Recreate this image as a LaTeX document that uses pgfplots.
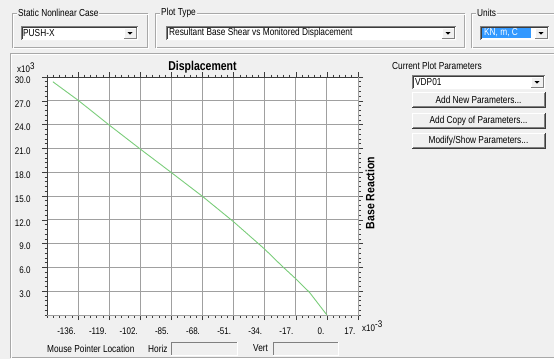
\documentclass[border=0pt]{standalone}
\usepackage{graphicx}
\usepackage{pgfplots}
\pgfplotsset{compat=1.18}
\usepackage{fontspec}
\setmainfont{Liberation Sans}
\definecolor{bg}{HTML}{F0F0F0}
\definecolor{gridc}{HTML}{A0A0A0}
\definecolor{curve}{HTML}{7ACD7A}
\definecolor{dark}{HTML}{3C3C3C}
\definecolor{etch}{HTML}{A8A8A8}
\definecolor{sel}{HTML}{3399FF}
\newcommand{\uifont}{\fontsize{8.3}{10}\selectfont}
\newcommand{\ui}[1]{\scalebox{1}[1.22]{#1}}
% group box: x1,y1,x2,y2,label
\newcommand{\groupbox}[5]{%
  \draw[etch] (#1,#2) rectangle (#3,#4);
  \draw[white] (#1+1,#2+1) rectangle (#3+1,#4+1);
  \node[fill=bg, inner sep=1pt, anchor=west] at (#1+5,#2) {\ui{#5}};
}
% combo box: x1,y1,x2,y2
\newcommand{\combo}[4]{%
  \fill[white] (#1,#2) rectangle (#3,#4);
  \draw[gray] (#1,#4) -- (#1,#2) -- (#3,#2);
  \draw[dark] (#1+1,#4-1) -- (#1+1,#2+1) -- (#3-1,#2+1);
  \draw[white!90!gray] (#1,#4) -- (#3,#4) -- (#3,#2);
  \fill[bg] (#3-14,#2+2) rectangle (#3-2,#4-2);
  \draw[white] (#3-14,#4-2) -- (#3-14,#2+2) -- (#3-2,#2+2);
  \draw[gray] (#3-14,#4-2) -- (#3-2,#4-2) -- (#3-2,#2+2);
  \fill[black] (#3-10.5,{(#2+#4)/2-1}) -- (#3-5.5,{(#2+#4)/2-1}) -- (#3-8,{(#2+#4)/2+1.6}) -- cycle;
}
% button: x1,y1,x2,y2,text
\newcommand{\button}[5]{%
  \fill[bg] (#1,#2) rectangle (#3,#4);
  \draw[white] (#1,#4) -- (#1,#2) -- (#3,#2);
  \draw[dark] (#1,#4) -- (#3,#4) -- (#3,#2);
  \draw[gray] (#1+1,#4-1) -- (#3-1,#4-1) -- (#3-1,#2+1);
  \node at ({(#1+#3)/2},{(#2+#4)/2}) {\ui{#5}};
}
\newcommand{\tl}[1]{\scalebox{1}[1.2]{#1}}
\begin{document}
\begin{tikzpicture}
\fill[bg] (0pt,0pt) rectangle (554pt,-359pt);
\useasboundingbox (0pt,0pt) rectangle (554pt,-359pt);
\begin{scope}[x=1pt,y=-1pt,font=\uifont,inner sep=0pt]
  % top group boxes
  \groupbox{12}{13}{147}{47}{Static Nonlinear Case}
  \groupbox{155}{13}{464}{47}{Plot Type}
  \groupbox{471}{13}{570}{47}{Units}
  \combo{21}{26}{138}{40}
  \node[anchor=west] at (23,33) {\ui{PUSH-X}};
  \combo{166}{26}{456}{40}
  \node[anchor=west] at (169,33) {\ui{Resultant Base Shear vs Monitored Displacement}};
  \combo{480}{26}{549}{40}
  \fill[sel] (482,28) rectangle (531,38);
  \node[anchor=west,text=white] at (484,33) {\ui{KN, m, C}};
  % big frame
  \draw[etch] (10,53) rectangle (580,357);
  \draw[white] (11,54) rectangle (581,358);
  % right panel
  \node[anchor=west] at (392,66) {\ui{Current Plot Parameters}};
  \combo{412}{75}{545}{89}
  \node[anchor=west] at (415,82) {\ui{VDP01}};
  \button{412}{92}{545}{107}{Add New Parameters...}
  \button{412}{113}{545}{128}{Add Copy of Parameters...}
  \button{412}{133}{545}{148}{Modify/Show Parameters...}
  % bottom
  \node[anchor=west] at (47,348.5) {\ui{Mouse Pointer Location}};
  \node[anchor=west] at (148,348.5) {\ui{Horiz}};
  \node[anchor=west] at (253,348.5) {\ui{Vert}};
  \draw[gray] (171,355) -- (171,342) -- (237,342);
  \draw[white] (171,355) -- (237,355) -- (237,342);
  \draw[gray] (273,355) -- (273,342) -- (338,342);
  \draw[white] (273,355) -- (338,355) -- (338,342);
  % plot titles
  \node[font=\fontsize{10.5}{12}\selectfont\bfseries] at (202.5,67) {\ui{Displacement}};
  \node[font=\fontsize{10.5}{12}\selectfont\bfseries,rotate=90] at (370,193) {\scalebox{1.0}[1.15]{Base Reaction}};
  \node[anchor=west,font=\fontsize{8}{9}\selectfont] at (17,67.5) {\tl{x10\raisebox{3pt}{3}}};
  \node[anchor=west,font=\fontsize{8}{9}\selectfont] at (362,326) {\tl{x10\raisebox{3pt}{-3}}};
\end{scope}
\begin{axis}[
  at={(47pt,-315pt)}, anchor=south west,
  scale only axis, width=311pt, height=238pt,
  xmin=-153, xmax=17, ymin=0, ymax=30,
  axis background/.style={fill=white},
  axis line style={gridc, line width=0.8pt},
  xtick={-136,-119,...,17},
  xticklabels={\tl{-136.},\tl{-119.},\tl{-102.},\tl{-85.},\tl{-68.},\tl{-51.},\tl{-34.},\tl{-17.},\tl{0.},\tl{17.}},
  ytick={3,6,...,30},
  yticklabels={\tl{3.0},\tl{6.0},\tl{9.0},\tl{12.0},\tl{15.0},\tl{18.0},\tl{21.0},\tl{24.0},\tl{27.0},\tl{30.0}},
  minor xtick={-153,-149.6,...,17},
  minor ytick={0,0.6,...,30},
  grid=major,
  major grid style={gridc, line width=1pt},
  tick align=outside,
  major tick length=5pt, minor tick length=2.5pt,
  every tick/.style={dark, line width=0.6pt},
  tick label style={font=\fontsize{8}{9}\selectfont},
  xticklabel style={anchor=north east, yshift=-4pt, xshift=1pt},
  yticklabel style={anchor=east, xshift=-8pt, yshift=-3pt},
]
\addplot[curve, line width=0.9pt] coordinates {
  (-149.8,29.4) (-135.6,27.0) (-119.3,24.0) (-102.2,20.95) (-85,17.95)
  (-68,14.95) (-51,11.75) (-34,8.3) (-24,6.05) (-16.7,4.5) (-9.5,2.85) (0,0)
};
\draw[dark, line width=0.8pt] (rel axis cs:0,0) -- (rel axis cs:0,1) -- (rel axis cs:1,1);
\end{axis}
\end{tikzpicture}
\end{document}
